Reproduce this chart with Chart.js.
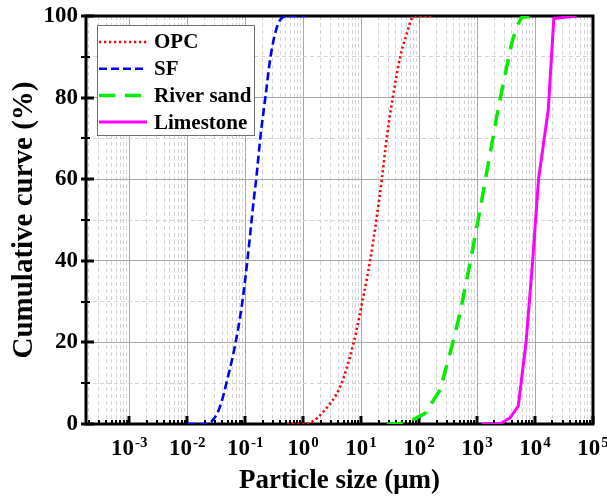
<!DOCTYPE html>
<html>
<head>
<meta charset="utf-8">
<script src="https://cdn.jsdelivr.net/npm/chart.js@4.4.1/dist/chart.umd.min.js"></script>
<style>
  html, body { margin: 0; padding: 0; background: #fff; }
  canvas { display: block; }
</style>
</head>
<body>
<canvas id="psd" width="607" height="498"></canvas>
<script>
// particle size (um) vs cumulative passing (%)
const opcSize    = [0.53, 1.1, 1.34, 2.26, 4.39, 7.43, 10.4, 14.4, 18.3, 22.9, 27.9, 35.4, 47.3, 61.7, 75.2, 90, 175];
const opcPassing = [0, 0, 0.3, 3.1, 9.3, 19.9, 29.7, 40.3, 50, 60.3, 70.5, 80.2, 90, 95.8, 99.4, 100, 100];

const sfSize    = [0.0102, 0.021, 0.0352, 0.0524, 0.0684, 0.0891, 0.109, 0.141, 0.157, 0.184, 0.224, 0.274, 0.356, 0.46, 0.6, 1.1];
const sfPassing = [0, 0, 3.5, 12.5, 19.9, 29.7, 39.9, 55, 60.7, 70.5, 80.2, 90, 97.4, 99.8, 100, 100];

const sandSize    = [28, 45, 80, 127, 231, 343, 510, 758, 1127, 1567, 2183, 2833, 3955, 4822, 5900, 9300];
const sandPassing = [0, 0, 1.1, 2.6, 8.4, 17.4, 27.2, 39.5, 52.5, 63.9, 75.3, 83.5, 93.3, 97.4, 99.7, 100];

const limeSize    = [1200, 2490, 3700, 5140, 7000, 9100, 11500, 16900, 21100, 52000];
const limePassing = [0, 0, 1.5, 4.4, 20, 40, 60, 77, 99.4, 100];

const seriesNames = ['OPC', 'SF', 'River sand', 'Limestone'];
const xDecades = [-4, -3, -2, -1, 0, 1, 2, 3, 4, 5];
const X_MIN = 1.8e-4, X_MAX = 1e5;

function points(sizes, passing) {
  return sizes.map((s, i) => ({ x: s, y: passing[i] }));
}

const FONT = "'Liberation Serif', 'Times New Roman', serif";
const MAJOR_GRID = '#a8a8a8';
const MINOR_GRID = '#d4d4d4';

// black frame plus the small inward tick marks
const frameTicks = {
  id: 'frameTicks',
  beforeDatasetsDraw(chart) {
    const { ctx, chartArea: a, scales: { x, y } } = chart;
    ctx.save();
    ctx.strokeStyle = '#000';
    x.ticks.forEach(t => {
      const px = Math.round(x.getPixelForValue(t.value));
      ctx.lineWidth = t.major ? 3 : 2;
      ctx.beginPath();
      ctx.moveTo(px, a.bottom);
      ctx.lineTo(px, a.bottom - (t.major ? 8 : 4));
      ctx.stroke();
    });
    y.ticks.forEach(t => {
      const py = Math.round(y.getPixelForValue(t.value));
      const major = t.value % 20 === 0;
      ctx.lineWidth = major ? 3 : 2;
      ctx.beginPath();
      ctx.moveTo(a.left - 5, py);
      ctx.lineTo(a.left + (major ? 8 : 4), py);
      ctx.stroke();
    });
    ctx.lineWidth = 3;
    ctx.strokeRect(a.left, a.top, a.right - a.left, a.bottom - a.top);
    ctx.restore();
  }
};

// "10" with a raised exponent under each decade tick
const powerLabels = {
  id: 'powerLabels',
  afterDraw(chart) {
    const { ctx, chartArea: a, scales: { x } } = chart;
    ctx.save();
    ctx.fillStyle = '#000';
    ctx.textBaseline = 'alphabetic';
    ctx.textAlign = 'left';
    x.ticks.forEach(t => {
      if (!t.major) return;
      const exp = String(Math.round(Math.log10(t.value)));
      const px = x.getPixelForValue(t.value);
      ctx.font = 'bold 23px ' + FONT;
      const wBase = ctx.measureText('10').width;
      ctx.font = 'bold 15px ' + FONT;
      const wExp = ctx.measureText(exp).width;
      const x0 = px - (wBase + wExp + 1) / 2;
      ctx.font = 'bold 23px ' + FONT;
      ctx.fillText('10', x0, a.bottom + 31);
      ctx.font = 'bold 15px ' + FONT;
      ctx.fillText(exp, x0 + wBase + 1, a.bottom + 22.5);
    });
    ctx.restore();
  }
};

// legend box inside the plot, top left
const insideLegend = {
  id: 'insideLegend',
  afterDatasetsDraw(chart) {
    const { ctx, chartArea: a } = chart;
    const x0 = a.left + 11, y0 = a.top + 9, w = 157, h = 110;
    ctx.save();
    ctx.fillStyle = '#fff';
    ctx.fillRect(x0, y0, w, h);
    ctx.strokeStyle = '#707070';
    ctx.lineWidth = 1;
    ctx.strokeRect(x0 + 0.5, y0 + 0.5, w, h);
    chart.data.datasets.forEach((ds, i) => {
      const yy = y0 + 17 + i * 26.7;
      ctx.strokeStyle = ds.borderColor;
      ctx.lineWidth = ds.borderWidth;
      ctx.setLineDash(ds.borderDash || []);
      ctx.beginPath();
      ctx.moveTo(x0 + 2, yy);
      ctx.lineTo(x0 + 50, yy);
      ctx.stroke();
      ctx.setLineDash([]);
      ctx.fillStyle = '#000';
      ctx.font = 'bold 21px ' + FONT;
      ctx.textBaseline = 'middle';
      ctx.fillText(ds.label, x0 + 57, yy + 1);
    });
    ctx.restore();
  }
};

new Chart(document.getElementById('psd'), {
  type: 'line',
  data: {
    datasets: [
      {
        label: seriesNames[0],
        data: points(opcSize, opcPassing),
        borderColor: '#ff0000',
        borderWidth: 2.6,
        borderDash: [2.2, 2.8],
        cubicInterpolationMode: 'monotone'
      },
      {
        label: seriesNames[1],
        data: points(sfSize, sfPassing),
        borderColor: '#0000ff',
        borderWidth: 2.6,
        borderDash: [8, 4],
        cubicInterpolationMode: 'monotone'
      },
      {
        label: seriesNames[2],
        data: points(sandSize, sandPassing),
        borderColor: '#00ee00',
        borderWidth: 3.5,
        borderDash: [16, 10]
      },
      {
        label: seriesNames[3],
        data: points(limeSize, limePassing),
        borderColor: '#ff00ff',
        borderWidth: 3
      }
    ]
  },
  options: {
    responsive: false,
    animation: false,
    devicePixelRatio: 1,
    layout: { padding: { left: 0, top: 16, right: 14, bottom: 0 } },
    elements: { point: { radius: 0 }, line: { tension: 0 } },
    plugins: { legend: { display: false }, tooltip: { enabled: false } },
    scales: {
      x: {
        type: 'logarithmic',
        min: X_MIN,
        max: X_MAX,
        afterBuildTicks: scale => {
          const ticks = [];
          xDecades.forEach(d => {
            for (let k = 1; k <= 9; k++) {
              const v = k * Math.pow(10, d);
              if (v >= X_MIN && v <= X_MAX * 1.0001) ticks.push({ value: v, major: k === 1 });
            }
          });
          scale.ticks = ticks;
        },
        afterFit: scale => {
          scale.height = 74;
          scale.paddingLeft = 0;
          scale.paddingRight = 0;
        },
        ticks: { display: false, autoSkip: false },
        grid: {
          drawTicks: false,
          lineWidth: 1,
          color: c => (c.tick && c.tick.major) ? MAJOR_GRID : MINOR_GRID
        },
        border: {
          display: false,
          dash: c => (c.tick && c.tick.major) ? [] : [4, 3]
        },
        title: {
          display: true,
          text: 'Particle size (\u03BCm)',
          color: '#000',
          font: { family: FONT, size: 27, weight: 'bold' },
          padding: { top: 0, bottom: 1 }
        }
      },
      y: {
        min: 0,
        max: 100,
        afterFit: scale => {
          scale.width = 86;
          scale.paddingTop = 0;
          scale.paddingBottom = 0;
        },
        ticks: {
          stepSize: 10,
          padding: 8,
          color: '#000',
          font: { family: FONT, size: 23, weight: 'bold' },
          callback: v => v % 20 === 0 ? v : ''
        },
        grid: {
          drawTicks: false,
          lineWidth: 1,
          color: c => (c.tick && c.tick.value % 20 === 0) ? MAJOR_GRID : MINOR_GRID
        },
        border: {
          display: false,
          dash: c => (c.tick && c.tick.value % 20 === 0) ? [] : [4, 3]
        },
        title: {
          display: true,
          text: 'Cumulative curve (%)',
          color: '#000',
          font: { family: FONT, size: 29, weight: 'bold' },
          padding: { top: 7, bottom: 0 }
        }
      }
    }
  },
  plugins: [frameTicks, powerLabels, insideLegend]
});
</script>
</body>
</html>
